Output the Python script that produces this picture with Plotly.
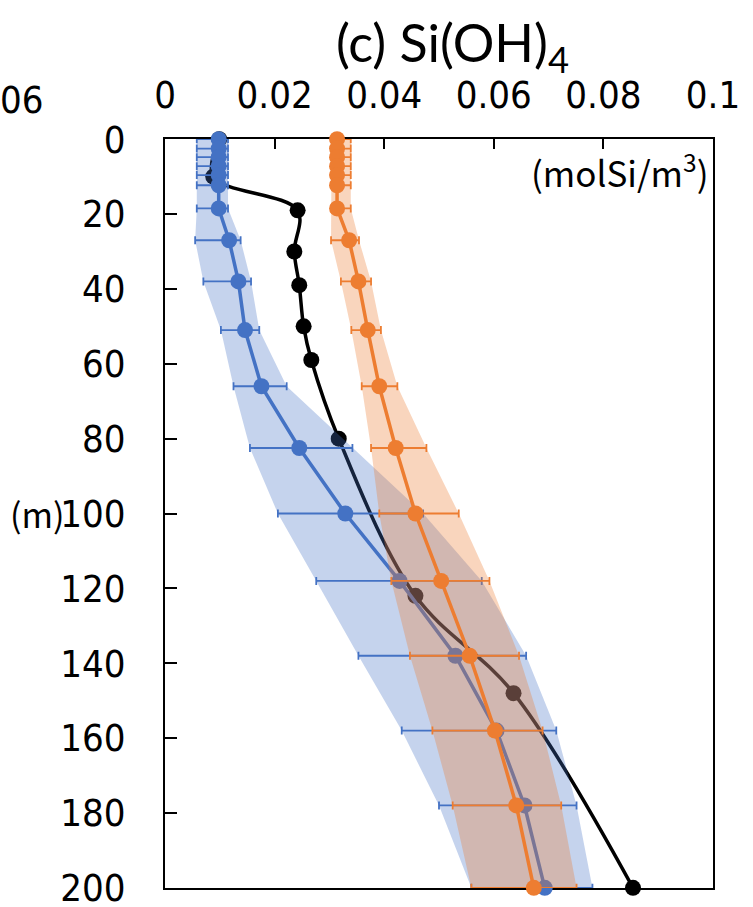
import plotly.graph_objects as go

# ---- data ----
depth_model = [0, 2.5, 4.8, 7.2, 9.6, 12.3, 18.5, 27, 38, 51, 66, 82.5, 100, 118, 138, 158, 178, 200]

blue_val = [0.0098, 0.0098, 0.0098, 0.0098, 0.0098, 0.0098, 0.0098, 0.0117, 0.0134, 0.0146, 0.0176,
            0.0245, 0.0329, 0.0428, 0.0530, 0.0605, 0.0656, 0.0693]
blue_lo = [0.0058, 0.0058, 0.0058, 0.0058, 0.0058, 0.0058, 0.0058, 0.0055, 0.0070, 0.0102, 0.0125,
           0.0155, 0.0206, 0.0276, 0.0353, 0.0432, 0.0500, 0.0559]
blue_hi = [0.0115, 0.0115, 0.0115, 0.0115, 0.0115, 0.0115, 0.0115, 0.0138, 0.0157, 0.0172, 0.0222,
           0.0342, 0.0471, 0.0578, 0.0659, 0.0714, 0.0751, 0.0780]

orange_val = [0.0314, 0.0314, 0.0314, 0.0314, 0.0314, 0.0314, 0.0314, 0.0336, 0.0353, 0.0370, 0.0391,
              0.0421, 0.0457, 0.0504, 0.0556, 0.0602, 0.0641, 0.0673]
orange_lo = [0.0304, 0.0304, 0.0304, 0.0304, 0.0304, 0.0304, 0.0304, 0.0303, 0.0321, 0.0340, 0.0359,
             0.0376, 0.0391, 0.0413, 0.0447, 0.0488, 0.0525, 0.0559]
orange_hi = [0.0339, 0.0339, 0.0339, 0.0339, 0.0339, 0.0339, 0.0339, 0.0354, 0.0376, 0.0394, 0.0424,
             0.0477, 0.0536, 0.0592, 0.0646, 0.0689, 0.0723, 0.0751]

depth_obs = [0, 10, 19, 30, 39, 50, 59, 80, 122, 148, 200]
obs_val = [0.0099, 0.0088, 0.0242, 0.0236, 0.0245, 0.0253, 0.0267, 0.0317, 0.0457, 0.0636, 0.0854]

x_ticks = [0, 0.02, 0.04, 0.06, 0.08, 0.1]
x_ticktext = ["0", "0.02", "0.04", "0.06", "0.08", "0.1"]
y_ticks = list(range(0, 201, 20))

BLUE = "#4472C4"
ORANGE = "#ED7D31"
TICKFONT = "Liberation Sans Narrow, Arial Narrow, DejaVu Sans Condensed, Liberation Sans, sans-serif"
JPFONT = "Noto Sans CJK JP, sans-serif"

fig = go.Figure()

# observations (bottom layer)
fig.add_trace(go.Scatter(
    x=obs_val, y=depth_obs, mode="lines+markers",
    line=dict(color="black", width=3.5, shape="spline", smoothing=1.0),
    marker=dict(color="black", size=16),
    cliponaxis=False, showlegend=False))


def band_trace(lo, hi, color):
    xs = list(lo) + list(hi)[::-1]
    ys = list(depth_model) + list(depth_model)[::-1]
    return go.Scatter(x=xs, y=ys, mode="lines", fill="toself", fillcolor=color,
                      line=dict(width=0), hoverinfo="skip", showlegend=False)


def series_trace(val, lo, hi, color):
    return go.Scatter(
        x=val, y=depth_model, mode="lines+markers",
        line=dict(color=color, width=3.5),
        marker=dict(color=color, size=16),
        error_x=dict(type="data", symmetric=False,
                     array=[h - v for h, v in zip(hi, val)],
                     arrayminus=[v - l for v, l in zip(val, lo)],
                     color=color, thickness=1.8, width=4),
        cliponaxis=False, showlegend=False)


fig.add_trace(band_trace(blue_lo, blue_hi, "rgba(68,114,196,0.31)"))
fig.add_trace(series_trace(blue_val, blue_lo, blue_hi, BLUE))
fig.add_trace(band_trace(orange_lo, orange_hi, "rgba(237,125,49,0.32)"))
fig.add_trace(series_trace(orange_val, orange_lo, orange_hi, ORANGE))

fig.update_layout(
    width=753, height=907, autosize=False,
    margin=dict(l=165, r=40, t=139, b=19),
    paper_bgcolor="white", plot_bgcolor="white",
    showlegend=False,
    xaxis=dict(side="top", range=[0, 0.1], tickvals=x_ticks, ticktext=x_ticktext,
               ticks="inside", ticklen=10, tickwidth=2, tickcolor="black",
               showline=True, linecolor="black", linewidth=2, mirror=True,
               showgrid=False, zeroline=False, layer="below traces",
               tickfont=dict(family=TICKFONT, size=38, color="black"),
               ticklabelstandoff=14, ticklabeloverflow="allow"),
    yaxis=dict(range=[200.05, -0.05], tickvals=y_ticks,
               ticktext=[str(v) for v in y_ticks],
               ticks="inside", ticklen=12, tickwidth=2, tickcolor="black",
               showline=True, linecolor="black", linewidth=2, mirror=True,
               showgrid=False, zeroline=False, layer="below traces",
               tickfont=dict(family=TICKFONT, size=38, color="black"),
               ticklabelstandoff=30, ticklabeloverflow="allow", automargin=False),
)

W = 547.5
fig.add_annotation(text="(c) Si(OH)<sub>4</sub>", xref="paper", yref="paper",
                   x=(452 - 165) / W, y=1 + (139 - 46) / 749.0, xanchor="center", yanchor="middle",
                   showarrow=False, font=dict(family="Lato, Liberation Sans, sans-serif", size=52, color="black"))
fig.add_annotation(text="(molSi/m<sup>3</sup>)", xref="paper", yref="paper",
                   x=(710 - 165) / W, y=1 - (170 - 139) / 749.0, xanchor="right", yanchor="middle",
                   showarrow=False, font=dict(family=JPFONT, size=35, color="black"))
fig.add_annotation(text="(m)", xref="paper", yref="y",
                   x=(66 - 165) / W, y=100, xanchor="right", yanchor="middle",
                   showarrow=False, font=dict(family=JPFONT, size=34, color="black"))
fig.add_annotation(text="06", xref="paper", yref="paper",
                   x=(-2 - 165) / W, y=1 + (139 - 100) / 749.0, xanchor="left", yanchor="middle",
                   showarrow=False, font=dict(family=TICKFONT, size=38, color="black"))

fig.write_html("out.html")
